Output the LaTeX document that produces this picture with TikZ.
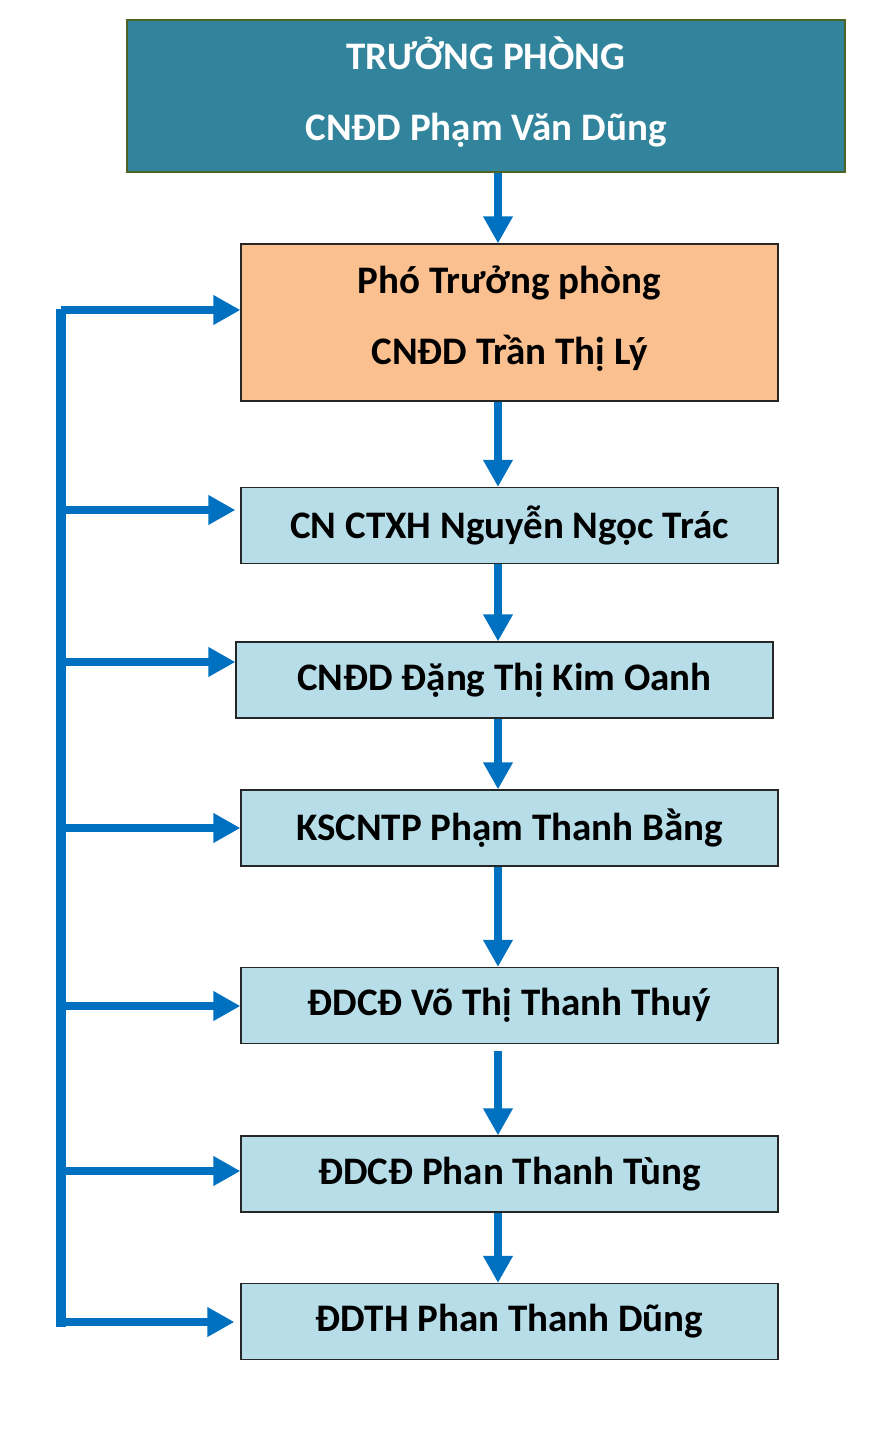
\documentclass[tikz,border=0pt]{standalone}
\usepackage{fontspec}
\setmainfont{Carlito}
\usetikzlibrary{arrows.meta,positioning}
\definecolor{xanhdam}{HTML}{31849B}
\definecolor{cam}{HTML}{FAC090}
\definecolor{xanhnhat}{HTML}{B7DEE8}
\definecolor{xanhduong}{HTML}{0070C0}
\definecolor{vienluc}{HTML}{4F6228}
\tikzstyle{block} = [rectangle, draw=black!85, fill=xanhnhat, line width=1.2pt,
    text centered, align=center, inner sep=0pt, minimum width=537pt, minimum height=76pt,
    font=\bfseries\fontsize{39}{47}\selectfont]
\tikzstyle{line} = [draw=xanhduong, line width=8pt, -{Triangle[length=27pt,width=28pt]}]
\tikzstyle{bus} = [draw=xanhduong, line width=10pt]

\begin{document}
\begin{tikzpicture}[x=1pt, y=-1pt]
	\useasboundingbox (0,0) rectangle (883,1433);

		\node [block, fill=xanhdam, draw=vienluc, text=white, minimum width=718pt, minimum height=152pt] (truong) at (486,96) {TRƯỞNG PHÒNG\\[24pt]CNĐD Phạm Văn Dũng\\[-32pt]};
		\node [block, fill=cam, minimum height=157pt] (pho) at (509.5,322.5) {Phó Trưởng phòng\\[24pt]CNĐD Trần Thị Lý\\[-32pt]};
		\node [block] (trac) at (509.5,525.5) {CN CTXH Nguyễn Ngọc Trác};
		\node [block] (oanh) at (504.5,680) {CNĐD Đặng Thị Kim Oanh};
		\node [block] (bang) at (509.5,828) {KSCNTP Phạm Thanh Bằng};
		\node [block] (thuy) at (509.5,1005.5) {ĐDCĐ Võ Thị Thanh Thuý};
		\node [block] (tung) at (509.5,1174) {ĐDCĐ Phan Thanh Tùng};
		\node [block] (dung) at (509.5,1321.5) {ĐDTH Phan Thanh Dũng};

		% truc giua
		\coordinate (truc) at (498,0);
		\path [line] (truong.south -| truc) -- (pho.north -| truc);
		\path [line] (pho.south -| truc) -- (trac.north -| truc);
		\path [line] (trac.south -| truc) -- (oanh.north -| truc);
		\path [line] (oanh.south -| truc) -- (bang.north -| truc);
		\path [line] (bang.south -| truc) -- (thuy.north -| truc);
		\path [line, shorten <=7pt] (thuy.south -| truc) -- (tung.north -| truc);
		\path [line] (tung.south -| truc) -- (dung.north -| truc);

		% duong ben trai
		\coordinate (bustop) at (61,309);
		\coordinate (busbot) at (61,1327);
		\path [bus] (bustop) -- (busbot);
		\coordinate (b1) at (61,310);
		\coordinate (b2) at (61,510);
		\coordinate (b3) at (61,662);
		\coordinate (b4) at (61,828);
		\coordinate (b5) at (61,1006);
		\coordinate (b6) at (61,1171);
		\coordinate (b7) at (61,1322);
		\path [line] (b1) -- (b1 -| pho.west);
		\path [line, shorten >=5pt] (b2) -- (b2 -| trac.west);
		\path [line] (b3) -- (b3 -| oanh.west);
		\path [line] (b4) -- (b4 -| bang.west);
		\path [line] (b5) -- (b5 -| thuy.west);
		\path [line] (b6) -- (b6 -| tung.west);
		\path [line, shorten >=6pt] (b7) -- (b7 -| dung.west);
	\end{tikzpicture}
\end{document}
